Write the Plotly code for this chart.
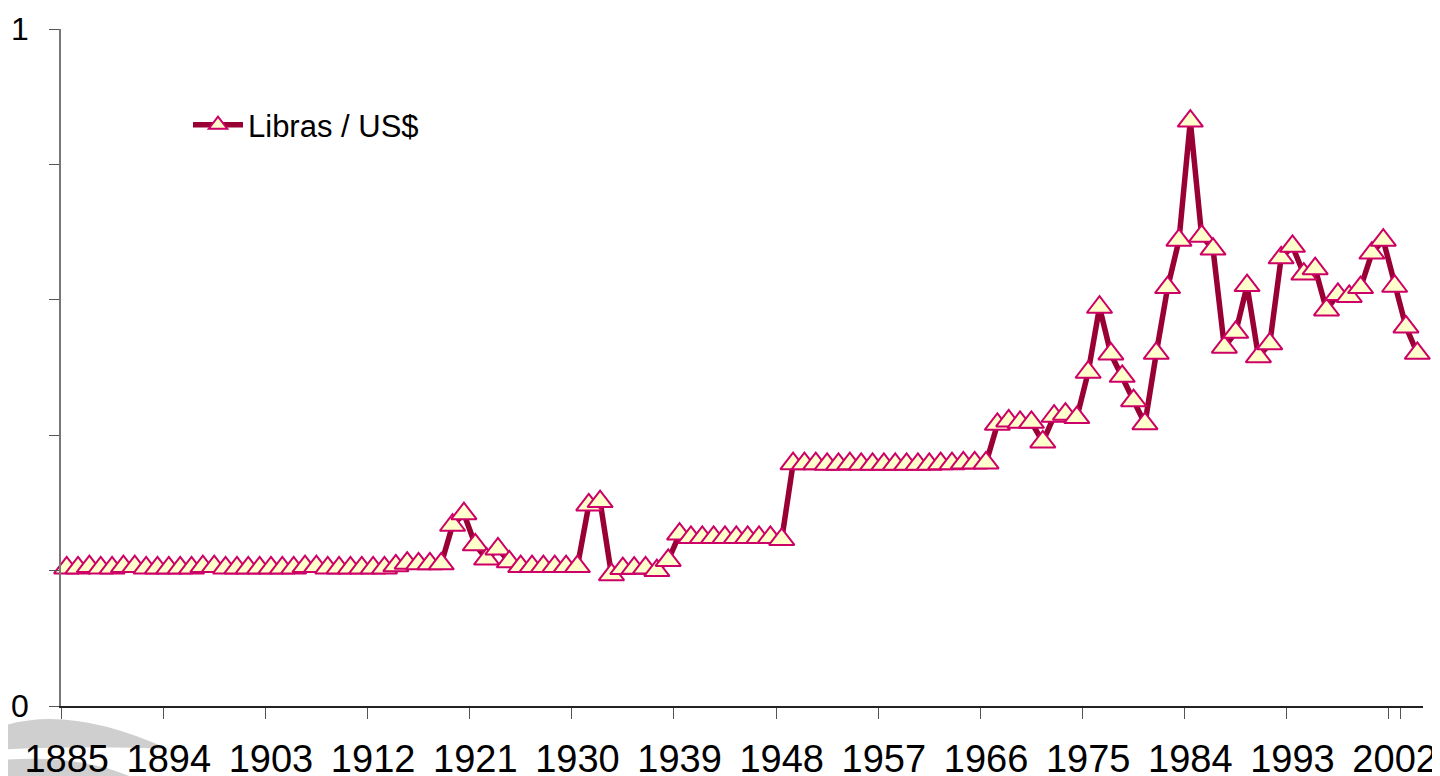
import plotly.graph_objects as go

# ---- data ----
YEARS = [str(y) for y in range(1885, 2005)]

VALUES_1885_1918 = [0.204, 0.204, 0.206, 0.204, 0.204, 0.206, 0.206, 0.204, 0.204, 0.204,
                    0.204, 0.204, 0.206, 0.206, 0.204, 0.204, 0.204, 0.204, 0.204, 0.204,
                    0.204, 0.206, 0.206, 0.204, 0.204, 0.204, 0.204, 0.204, 0.204, 0.207,
                    0.211, 0.210, 0.210, 0.210]
VALUES_1919_1948 = [0.267, 0.284, 0.238, 0.217, 0.232, 0.213, 0.206, 0.206, 0.206, 0.206,
                    0.206, 0.206, 0.297, 0.302, 0.194, 0.203, 0.2035, 0.204, 0.200, 0.215,
                    0.254, 0.249, 0.249, 0.249, 0.249, 0.249, 0.249, 0.249, 0.249, 0.246]
VALUES_1949_1966 = [0.358, 0.358, 0.358, 0.357, 0.357, 0.358, 0.357, 0.357, 0.357, 0.357,
                    0.357, 0.357, 0.357, 0.358, 0.358, 0.359, 0.359, 0.359]
VALUES_1967_2004 = [0.416, 0.421, 0.419, 0.419, 0.390, 0.428, 0.431, 0.426, 0.493, 0.589,
                    0.520, 0.487, 0.451, 0.417, 0.521, 0.618, 0.688, 0.864, 0.694, 0.675,
                    0.530, 0.552, 0.621, 0.516, 0.535, 0.662, 0.679, 0.638, 0.646, 0.585,
                    0.608, 0.605, 0.618, 0.669, 0.688, 0.620, 0.560, 0.521]
VALUES = VALUES_1885_1918 + VALUES_1919_1948 + VALUES_1949_1966 + VALUES_1967_2004

X_TICK_LABELS = ["1885", "1894", "1903", "1912", "1921", "1930", "1939",
                 "1948", "1957", "1966", "1975", "1984", "1993", "2002"]
Y_TICK_VALUES = [0, 0.2, 0.4, 0.6, 0.8, 1]
Y_TICK_TEXT = ["0", "", "", "", "", "1"]
SERIES_NAME = "Libras / US$"

# ---- figure ----
fig = go.Figure()
fig.add_trace(go.Scatter(
    x=YEARS, y=VALUES, name=SERIES_NAME, mode="lines+markers",
    line=dict(color="#990033", width=5.5),
    marker=dict(symbol="triangle-up", size=22, color="#FFFFCC",
                line=dict(color="#CC0066", width=2)),
    cliponaxis=False,
))

# page has an 8px body margin: figure sits at (8, 8)
OFF = 8
W, H = 1440 - OFF, 776 - OFF
PL, PR, PT, PB = 61, 1423, 29, 706        # plot area in page pixels
L, R, T, B = PL - OFF, W - (PR - OFF), PT - OFF, H - (PB - OFF)
pw, ph = PR - PL, PB - PT


def px(x):
    return (x - PL) / pw


def py(y):
    return (PB - y) / ph


grey = "#cfcfcf"
band1 = (f"M {px(-10)},{py(731)} Q {px(60)},{py(700)} {px(168)},{py(749)} "
         f"Q {px(90)},{py(745)} {px(-10)},{py(750)} Z")
band2 = (f"M {px(-10)},{py(761)} Q {px(80)},{py(752)} {px(138)},{py(780)} "
         f"L {px(-10)},{py(780)} Z")

fig.update_layout(
    width=W, height=H,
    margin=dict(l=L, r=R, t=T, b=B, autoexpand=False),
    paper_bgcolor="white", plot_bgcolor="white",
    font=dict(family="Liberation Sans, Arial, sans-serif", color="black"),
    showlegend=True,
    legend=dict(x=px(188), y=py(125), xanchor="left", yanchor="middle",
                font=dict(size=31, family="Liberation Sans, Arial, sans-serif"),
                bgcolor="rgba(0,0,0,0)", borderwidth=0, itemwidth=50),
    shapes=[
        dict(type="path", path=band1, xref="paper", yref="paper",
             fillcolor=grey, line=dict(width=0), layer="below"),
        dict(type="path", path=band2, xref="paper", yref="paper",
             fillcolor=grey, line=dict(width=0), layer="below"),
    ],
    xaxis=dict(
        type="category", range=[-0.5, len(YEARS) - 0.5],
        tickmode="array", tickvals=X_TICK_LABELS, ticktext=X_TICK_LABELS,
        tickson="boundaries", ticks="outside", ticklen=11, tickwidth=1.3,
        tickcolor="#555555", showline=True, linecolor="#222222", linewidth=1.5,
        showgrid=False, zeroline=False, tickangle=0, automargin=False,
        ticklabelstandoff=19,
        tickfont=dict(size=38),
    ),
    yaxis=dict(
        range=[0, 1], tickmode="array", tickvals=Y_TICK_VALUES, ticktext=Y_TICK_TEXT,
        ticks="outside", ticklen=10, tickwidth=1.3, tickcolor="#555555",
        showline=True, linecolor="#777777", linewidth=1.5,
        showgrid=False, zeroline=False, automargin=False,
        ticklabelstandoff=14,
        tickfont=dict(size=32),
    ),
)

fig.write_html("out.html")
